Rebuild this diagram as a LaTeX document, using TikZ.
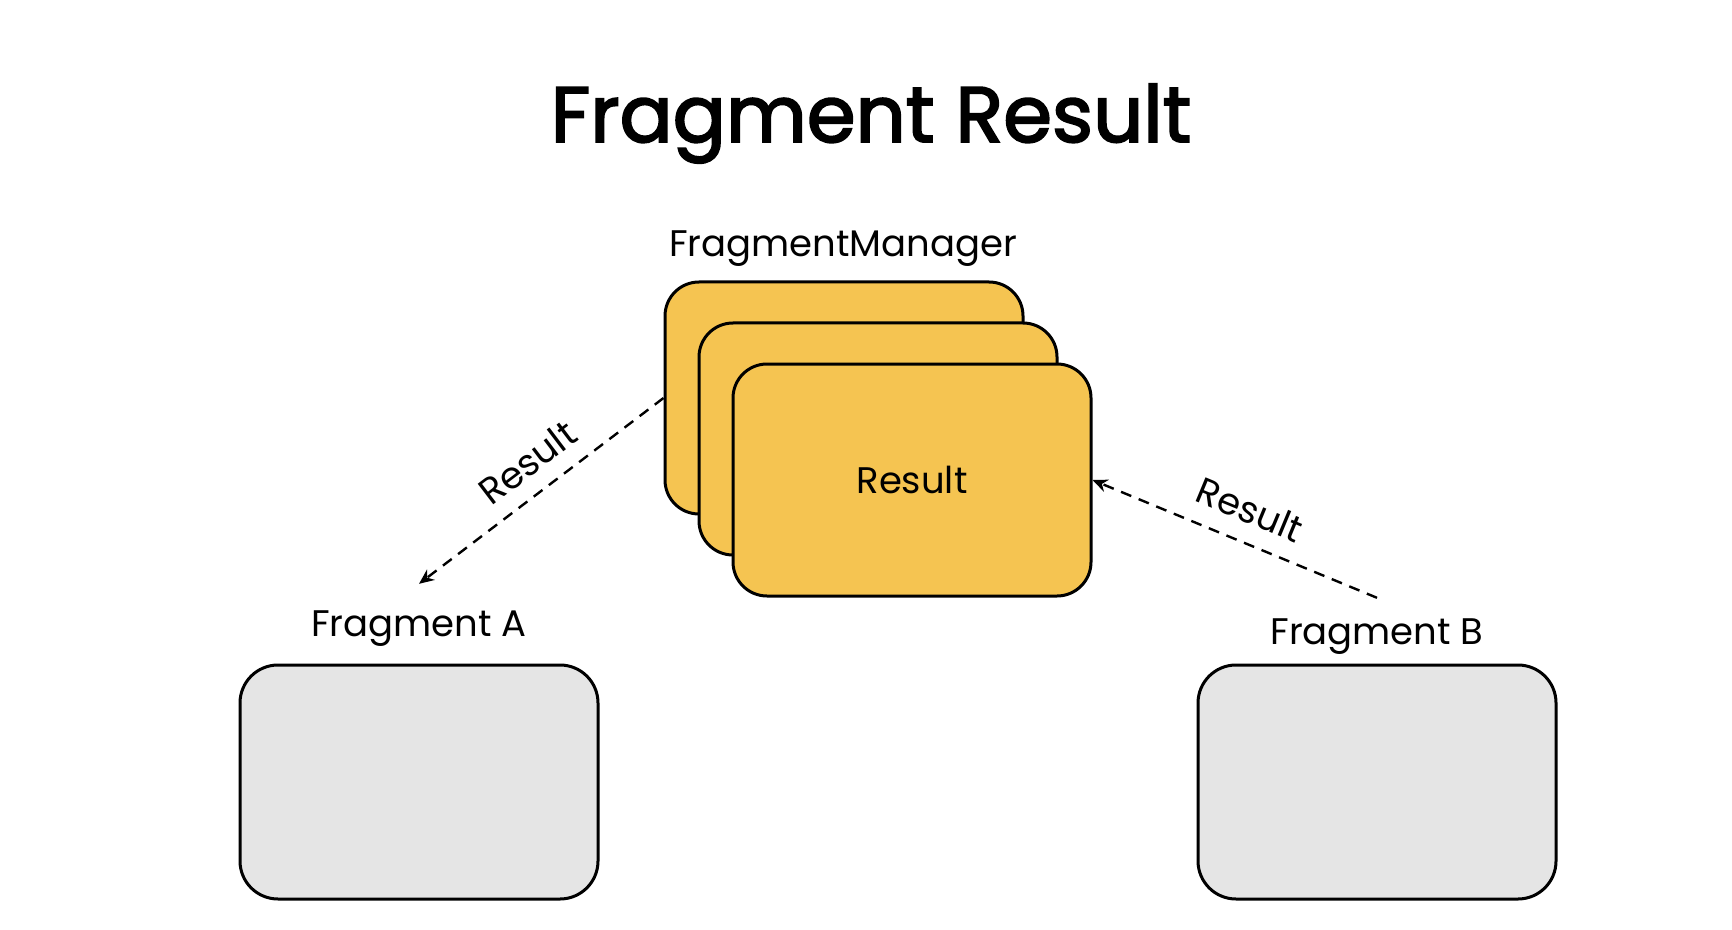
\documentclass[tikz,border=0pt]{standalone}
\usepackage{fontspec}
\setmainfont{Poppins}
\newfontfamily\titlefont[FakeBold=2.4]{Poppins}
\usetikzlibrary{positioning,arrows.meta}

\definecolor{resultyellow}{HTML}{F5C451}
\definecolor{fraggray}{HTML}{E5E5E5}

\begin{document}
\begin{tikzpicture}[>={Stealth[length=7.5pt,width=6.5pt]}, x=0.5pt, y=-0.5pt,
    card/.style={draw, line width=1.5pt, rounded corners=17pt, fill=resultyellow, minimum width=179pt, minimum height=116pt, font=\fontsize{18.5}{22}\selectfont},
    fragbox/.style={draw, line width=1.5pt, rounded corners=19pt, fill=fraggray, minimum width=179pt, minimum height=117pt},
    lbl/.style={font=\fontsize{18.5}{22}\selectfont, inner sep=0pt, anchor=base},
    arrowlbl/.style={font=\fontsize{18.5}{22}\selectfont, sloped, inner sep=2pt},
    resarrow/.style={->, line width=1.2pt, dash pattern=on 5.5pt off 4pt}]

	\useasboundingbox (0,0) rectangle (1732,930);

	\node[font=\fontsize{39.3}{46}\titlefont, anchor=base] (title) at (871,142) {Fragment Result};

	% FRAGMENT MANAGER

	\node[lbl] (fm) at (843,257) {FragmentManager};
	\node[card] (card1) at (844,398) {};
	\node[card] (card2) at (878,439) {};
	\node[card] (card3) at (912,480) {Result};

	% FRAGMENTS

	\node[lbl] (fraga) at (419,636) {Fragment A};
	\node[fragbox] (boxa) at (419,782) {};
	\node[lbl] (fragb) at (1377,644) {Fragment B};
	\node[fragbox] (boxb) at (1377,782) {};

	\draw[resarrow] (card1.west) to node[arrowlbl, pos=0.48, above=6pt] {Result} ([yshift=13pt]fraga.north);
	\draw[resarrow] ([yshift=10pt]fragb.north) to node[arrowlbl, pos=0.49, above=7pt] {Result} (card3.east);
\end{tikzpicture}
\end{document}
